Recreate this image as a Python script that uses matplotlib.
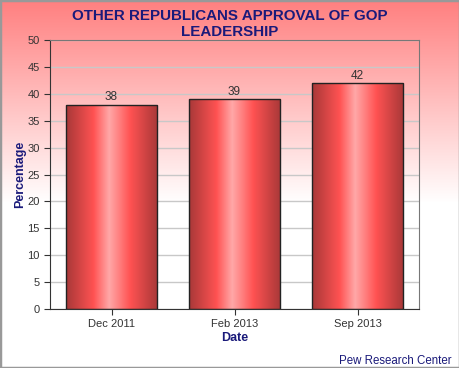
import numpy as np
import matplotlib
matplotlib.use('Agg')
from matplotlib import pyplot as plt
from matplotlib.colors import LinearSegmentedColormap
from matplotlib.patches import Rectangle

plt.rcParams['font.family'] = ['Liberation Sans', 'DejaVu Sans']

dates = ['Dec 2011', 'Feb 2013', 'Sep 2013']
approval = [38, 39, 42]

navy = '#1a1a7a'
fig = plt.figure(figsize=(4.6, 3.68), dpi=100)

# background gradient for the whole figure
bg = fig.add_axes([0, 0, 1, 1], zorder=-10)
rows = np.linspace(0, 1, 368)
fade = np.clip(rows / 0.55, 0, 1)
img = np.ones((368, 1, 3))
img[:, 0, 1] = 0.5 + 0.5 * fade
img[:, 0, 2] = 0.5 + 0.5 * fade
bg.imshow(img, aspect='auto', extent=[0, 1, 0, 1], origin='upper')
bg.add_patch(Rectangle((0, 0), 1, 1, fill=False, edgecolor='#999999',
                       linewidth=2.5, transform=bg.transAxes))
bg.set_xlim(0, 1)
bg.set_ylim(0, 1)
bg.axis('off')

ax = fig.add_axes([0.1087, 0.1603, 0.8022, 0.7307])
ax.patch.set_alpha(0)
ind = np.arange(len(dates))
bars = ax.bar(ind, approval, width=0.74, color='none', edgecolor='#222222',
              linewidth=1.0, zorder=3)

bar_cmap = LinearSegmentedColormap.from_list('barshade', [
    (0.0, '#a83838'), (0.3, '#ff5252'), (0.47, '#ffa8a8'),
    (0.7, '#ff5252'), (1.0, '#a83838')])
grad = np.linspace(0, 1, 256).reshape(1, -1)
for rect in bars:
    x0 = rect.get_x()
    w = rect.get_width()
    h = rect.get_height()
    im = ax.imshow(grad, cmap=bar_cmap, aspect='auto',
                   extent=[x0, x0 + w, 0, h], zorder=2)
    im.set_clip_path(rect)
    ax.text(x0 + w / 2., h + 0.3, str(int(h)), ha='center', va='bottom',
            fontsize=8.5, color='#333333', zorder=4)

ax.set_xlim(-0.5, len(dates) - 0.5)
ax.set_ylim(0, 50)
ax.set_yticks(range(0, 51, 5))
ax.set_xticks(ind)
ax.set_xticklabels(dates)
ax.tick_params(labelsize=8, colors='#333333', length=4, width=0.8)
ax.yaxis.grid(True, color='#c8c8c8', linewidth=1.0, zorder=0)
ax.set_axisbelow(True)
for side in ['left', 'bottom']:
    ax.spines[side].set_color('#333333')
for side in ['top', 'right']:
    ax.spines[side].set_color('#777777')

ax.set_ylabel('Percentage', fontsize=9, fontweight='bold', color=navy)
ax.yaxis.set_label_coords(-0.066, 0.5)
ax.set_xlabel('Date', fontsize=9, fontweight='bold', color=navy, labelpad=2)

fig.text(0.5, 0.935, 'OTHER REPUBLICANS APPROVAL OF GOP\nLEADERSHIP',
         ha='center', va='center', fontsize=10.9, fontweight='bold',
         color=navy, linespacing=1.15)
fig.text(0.982, 0.004, 'Pew Research Center', ha='right', va='bottom',
         fontsize=8.3, color=navy)

fig.savefig('out.png', dpi=100)
